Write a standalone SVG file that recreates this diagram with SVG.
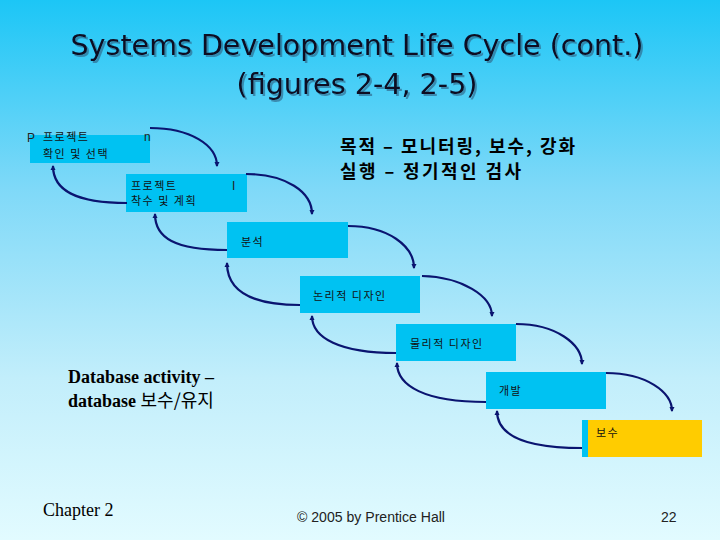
<svg xmlns="http://www.w3.org/2000/svg" width="720" height="540" viewBox="0 0 720 540">
<defs>
<linearGradient id="bg" x1="0" y1="0" x2="0" y2="1">
<stop offset="0" stop-color="#1CC6F6"/>
<stop offset="0.35" stop-color="#7FD9F8"/>
<stop offset="0.7" stop-color="#C2EEFB"/>
<stop offset="1" stop-color="#E2FBFF"/>
</linearGradient>
<filter id="sh" x="-5%" y="-20%" width="110%" height="140%">
<feDropShadow dx="2" dy="2" stdDeviation="0.4" flood-color="#2E5F80" flood-opacity="0.6"/>
</filter>
<marker id="ah" viewBox="0 0 10 10" refX="8" refY="5" markerWidth="2.4" markerHeight="2.4" orient="auto" markerUnits="strokeWidth">
<path d="M0,0 L10,5 L0,10 z" fill="#0A1470"/>
</marker>
<style>
.box{fill:#00C2F2}
.kr{font-family:"Noto Sans CJK KR","Noto Sans",sans-serif;font-size:11px;fill:#111;letter-spacing:1.5px}
.lat{font-family:"Liberation Sans",Arial,sans-serif;font-size:12px;fill:#222}
.conn path{fill:none;stroke:#0A1470;stroke-width:2.2;marker-end:url(#ah)}
.title{font-family:"DejaVu Sans",Tahoma,sans-serif;font-size:28px;fill:#0A0A22;filter:url(#sh)}
.big{font-family:"Noto Sans CJK KR",sans-serif;font-size:18px;font-weight:bold;fill:#000}
.tb{font-family:"Liberation Serif","Noto Sans CJK KR",serif;font-size:18px;font-weight:bold;fill:#000}
</style>
</defs>
<rect width="720" height="540" fill="url(#bg)"/>

<g id="title">
<text class="title" x="357" y="55" text-anchor="middle" textLength="573" lengthAdjust="spacingAndGlyphs">Systems Development Life Cycle  (cont.)</text>
<text class="title" x="357" y="94" text-anchor="middle" textLength="241" lengthAdjust="spacingAndGlyphs">(figures 2-4, 2-5)</text>
</g>

<g id="node1">
<rect class="box" x="30" y="135" width="120" height="28"/>
<text class="lat" x="27" y="142" font-size="14">P</text>
<text class="kr" x="43" y="141">프로젝트</text>
<text class="lat" x="144" y="141" font-size="13">n</text>
<text class="kr" x="43" y="158">확인 및 선택</text>
</g>

<g id="node2">
<rect class="box" x="126" y="174" width="121" height="38"/>
<text class="kr" x="131" y="190">프로젝트</text>
<text class="lat" x="232" y="190" font-size="10">I</text>
<text class="kr" x="131" y="205">착수 및 계획</text>
</g>

<g id="node3">
<rect class="box" x="227" y="222" width="121" height="36"/>
<text class="kr" x="241" y="246">분석</text>
</g>

<g id="node4">
<rect class="box" x="300" y="276" width="120" height="37"/>
<text class="kr" x="313" y="300">논리적 디자인</text>
</g>

<g id="node5">
<rect class="box" x="396" y="324" width="120" height="37"/>
<text class="kr" x="410" y="348">물리적 디자인</text>
</g>

<g id="node6">
<rect class="box" x="486" y="372" width="120" height="37"/>
<text class="kr" x="499" y="395">개발</text>
</g>

<g id="node7">
<rect x="582" y="420" width="6" height="37" fill="#00C2F2"/>
<rect x="588" y="420" width="114" height="37" fill="#FFCC00"/>
<text class="kr" x="596" y="437" font-size="13" letter-spacing="0.5">보수</text>
</g>

<g id="connectors" class="conn">
<path d="M150,128 C190,128 217,145 217,166"/>
<path d="M246,174 C286,174 312,192 312,214"/>
<path d="M348,226 C388,226 414,246 414,268"/>
<path d="M422,276 C462,277 492,296 492,316"/>
<path d="M516,324 C556,324 582,344 582,364"/>
<path d="M606,373 C646,373 672,392 672,411"/>
<path d="M127,203 C75,203 53,190 53,166"/>
<path d="M227,250 C175,250 155,238 155,214"/>
<path d="M300,305 C250,305 227,290 227,263"/>
<path d="M396,353 C340,353 312,338 312,316"/>
<path d="M486,402 C425,402 397,386 397,363"/>
<path d="M582,448 C525,448 497,435 497,411"/>
</g>

<g id="notes">
<text class="big" x="340" y="153" textLength="235" lengthAdjust="spacing">목적 – 모니터링, 보수, 강화</text>
<text class="big" x="340" y="178" textLength="181" lengthAdjust="spacing">실행 – 정기적인 검사</text>
<text class="tb" x="68" y="383">Database activity –</text>
<text class="tb" x="68" y="407">database <tspan font-family="Noto Sans CJK KR, sans-serif" font-weight="normal">보수/유지</tspan></text>
</g>

<g id="footer">
<text x="43" y="516" font-family="Liberation Serif, serif" font-size="18" fill="#000">Chapter 2</text>
<text x="297" y="522" font-family="Liberation Sans, Arial, sans-serif" font-size="14" fill="#222" textLength="148" lengthAdjust="spacingAndGlyphs">© 2005 by Prentice Hall</text>
<text x="661" y="522" font-family="Liberation Sans, Arial, sans-serif" font-size="14" fill="#222">22</text>
</g>
</svg>
